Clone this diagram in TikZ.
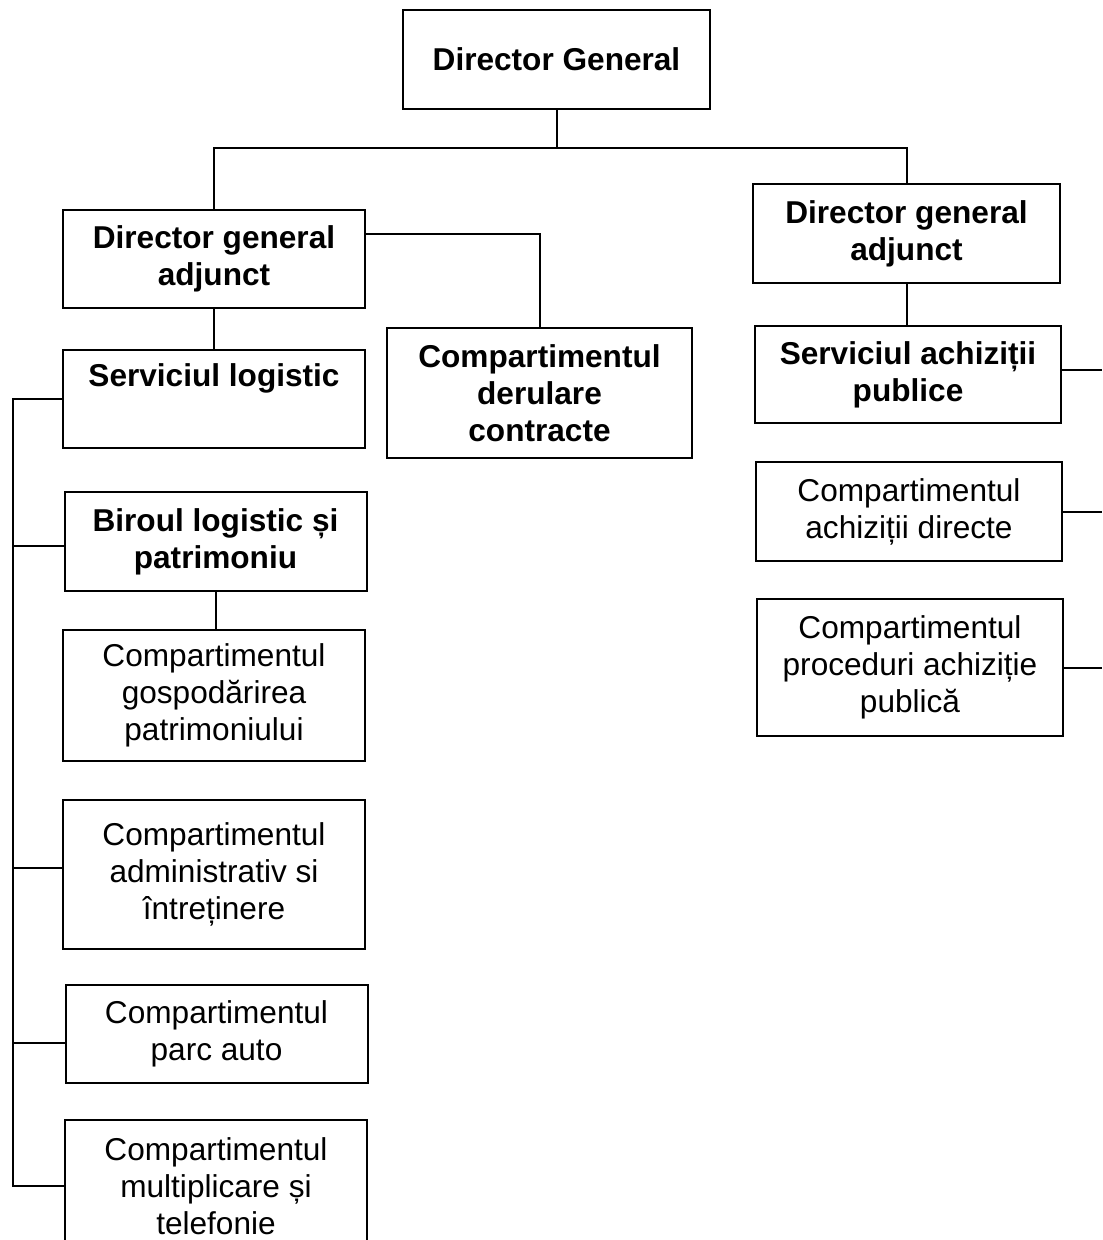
\documentclass[tikz,border=0pt]{standalone}
\usepackage{fontspec}
\setmainfont{Liberation Sans}

\begin{document}
\begin{tikzpicture}[x=0.5pt,y=-0.5pt,line width=1pt,
	box/.style={draw,rectangle,inner sep=0,outer sep=0,minimum width=151pt,align=center,font=\fontsize{15.8pt}{18.5pt}\selectfont},
	bbox/.style={box,font=\fontsize{15.8pt}{18.5pt}\selectfont\bfseries}]
	\useasboundingbox (0,0) rectangle (1102,1240);
	\node[bbox,minimum width=153.5pt,minimum height=49.5pt] (dg) at (556.5,59.5) {Director General};
	\node[bbox,minimum height=49pt] (dga1) at (214,259) {Director general\\adjunct};
	\node[bbox,minimum width=152.5pt,minimum height=65pt] (cdc) at (539.5,393) {Compartimentul\\derulare\\contracte};
	\node[bbox,minimum height=49pt] (sl) at (214,399) {Serviciul logistic\\\strut};
	\node[bbox,minimum height=49.5pt] (blp) at (215.5,541.5) {Biroul logistic și\\patrimoniu};
	\node[box,minimum height=65.5pt] (cgp) at (214,695.5) {Compartimentul\\gospodărirea\\patrimoniului};
	\node[box,minimum height=74.5pt] (cai) at (214,874.5) {Compartimentul\\administrativ si\\întreținere};
	\node[box,minimum height=49pt] (cpa) at (216.5,1034) {Compartimentul\\parc auto};
	\node[box,minimum height=66pt] (cmt) at (216,1186) {Compartimentul\\multiplicare și\\telefonie};
	\node[bbox,minimum width=153.5pt,minimum height=49.5pt] (dga2) at (906.5,233.5) {Director general\\adjunct};
	\node[bbox,minimum width=153pt,minimum height=48.5pt] (sap) at (908,374.5) {Serviciul achiziții\\publice};
	\node[box,minimum width=153pt,minimum height=49.5pt] (cad) at (909,511.5) {Compartimentul\\achiziții directe};
	\node[box,minimum width=153pt,minimum height=68.5pt] (cpap) at (910,667.5) {Compartimentul\\proceduri achiziție\\publică};
	\coordinate (bus) at (556.5,148);
	\coordinate (spine) at (13,398);
	\coordinate (edge) at (1102,0);
	\draw (dg.south) -- (bus);
	\draw (dga1.north) |- (bus) -| (dga2.north);
	\draw (dga1.east |- 0,234) -| (cdc.north);
	\draw (dga1.south) -- (sl.north);
	\draw (blp.south) -- (blp.south |- cgp.north);
	\draw (dga2.south) -- (dga2.south |- sap.north);
	\draw (sl.west) -- (spine |- sl.west) -- (spine |- cmt.west) -- (cmt.west);
	\draw (blp.west |- 0,546) -- (spine |- 0,546);
	\draw (cai.west |- 0,868) -- (spine |- 0,868);
	\draw (cpa.west |- 0,1043) -- (spine |- 0,1043);
	\draw (sap.east |- 0,370) -- (edge |- 0,370);
	\draw (cad.east) -- (cad.east -| edge);
	\draw (cpap.east) -- (cpap.east -| edge);
\end{tikzpicture}
\end{document}
